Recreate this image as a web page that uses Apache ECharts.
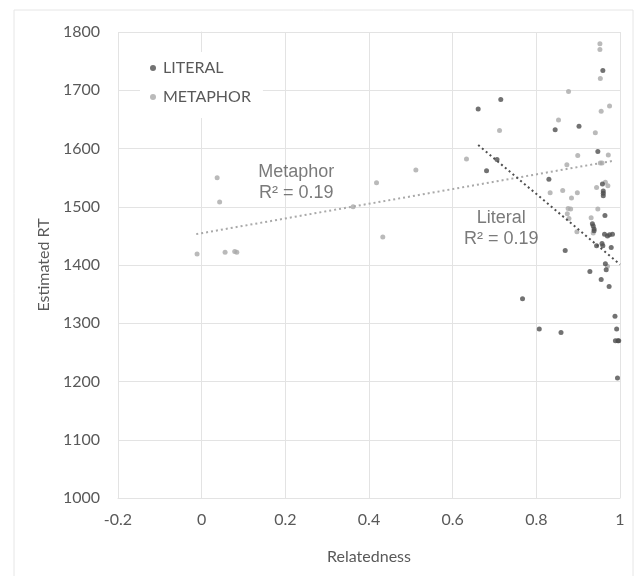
<!DOCTYPE html>
<html>
<head>
<meta charset="utf-8">
<script src="https://cdn.jsdelivr.net/npm/echarts@6/dist/echarts.min.js"></script>
<style>
  html, body { margin: 0; padding: 0; background: #ffffff; }
  #chart { width: 635px; height: 576px; }
</style>
</head>
<body>
<div id="chart"></div>
<script>
// Relatedness (x) vs estimated reaction time (y)
const literalX = [0.959, 0.715, 0.661, 0.845, 0.902, 0.947, 0.706, 0.681, 0.830, 0.958,
  0.960, 0.960, 0.960, 0.964, 0.934, 0.936, 0.938, 0.938, 0.963, 0.970,
  0.975, 0.982, 0.944, 0.957, 0.959, 0.979, 0.869, 0.928, 0.965, 0.967,
  0.955, 0.974, 0.767, 0.988, 0.807, 0.992, 0.859, 0.989, 0.995, 0.997, 0.994];
const literalRT = [1734, 1684, 1668, 1632, 1638, 1595, 1581, 1562, 1547, 1539,
  1527, 1523, 1519, 1485, 1471, 1467, 1462, 1459, 1453, 1450,
  1452, 1453, 1433, 1437, 1433, 1430, 1425, 1389, 1402, 1392,
  1375, 1363, 1342, 1312, 1290, 1290, 1284, 1270, 1270, 1270, 1206];

const metaphorX = [-0.011, 0.037, 0.043, 0.056, 0.079, 0.084, 0.362, 0.418, 0.433, 0.512,
  0.633, 0.712, 0.952, 0.952, 0.953, 0.877, 0.975, 0.955, 0.853, 0.941,
  0.972, 0.899, 0.873, 0.953, 0.957, 0.965, 0.944, 0.971, 0.833, 0.863,
  0.898, 0.884, 0.876, 0.882, 0.874, 0.878, 0.897, 0.947, 0.931, 0.936, 0.970];
const metaphorRT = [1419, 1550, 1508, 1422, 1423, 1422, 1500, 1541, 1448, 1563,
  1582, 1631, 1780, 1770, 1720, 1698, 1673, 1664, 1649, 1627,
  1589, 1588, 1572, 1575, 1575, 1542, 1533, 1536, 1524, 1528,
  1524, 1515, 1497, 1496, 1488, 1480, 1457, 1496, 1481, 1455, 1398];

// Linear trend line end points
const literalTrendX = [0.661, 1.0];
const literalTrendY = [1606, 1401];
const metaphorTrendX = [-0.013, 0.985];
const metaphorTrendY = [1453, 1579];

// Trend annotations (anchored in data space)
const literalNote = { x: 0.716, y: 1463, text: 'Literal\nR² = 0.19' };
const metaphorNote = { x: 0.226, y: 1541, text: 'Metaphor\nR² = 0.19' };

const xTicks = { min: -0.2, max: 1, interval: 0.2 };
const yTicks = { min: 1000, max: 1800, interval: 100 };

const darkColor = '#4f4f4f';
const lightColor = '#a9a9a9';
const gridColor = '#e3e3e3';
const textColor = '#595959';

const zip = (xs, ys) => xs.map((x, i) => [x, ys[i]]);

const chart = echarts.init(document.getElementById('chart'), null, { renderer: 'canvas' });

chart.setOption({
  animation: false,
  backgroundColor: '#ffffff',
  textStyle: { fontFamily: 'Lato, "Liberation Sans", sans-serif' },
  graphic: [{
    type: 'rect',
    shape: { x: 14, y: 10, width: 619, height: 580 },
    style: { fill: 'none', stroke: '#e6e6e6', lineWidth: 1 },
    silent: true,
    z: -1
  }],
  grid: { left: 118, right: 15, top: 32, bottom: 78 },
  legend: {
    orient: 'vertical',
    left: 140,
    top: 52,
    padding: [7, 12, 12, 10],
    backgroundColor: '#ffffff',
    itemWidth: 6,
    itemHeight: 6,
    itemGap: 11,
    data: [
      { name: 'LITERAL', icon: 'circle' },
      { name: 'METAPHOR', icon: 'circle' }
    ],
    textStyle: {
      color: textColor, fontSize: 16, fontFamily: 'Lato, sans-serif',
      lineHeight: 18, padding: [0, 0, 0, 2]
    },
    z: 10
  },
  xAxis: {
    type: 'value',
    min: xTicks.min,
    max: xTicks.max,
    interval: xTicks.interval,
    name: 'Relatedness',
    nameLocation: 'middle',
    nameGap: 51,
    nameTextStyle: { color: textColor, fontSize: 16, fontFamily: 'Lato, sans-serif' },
    axisLine: { show: true, lineStyle: { color: gridColor } },
    axisTick: { show: false },
    axisLabel: {
      color: textColor, fontSize: 16, margin: 14,
      formatter: v => String(Math.round(v * 10) / 10)
    },
    splitLine: { show: true, lineStyle: { color: gridColor } }
  },
  yAxis: {
    type: 'value',
    min: yTicks.min,
    max: yTicks.max,
    interval: yTicks.interval,
    name: 'Estimated RT',
    nameLocation: 'middle',
    nameRotate: 90,
    nameGap: 63,
    nameTextStyle: { color: textColor, fontSize: 16, fontFamily: 'Lato, sans-serif' },
    axisLine: { show: true, lineStyle: { color: gridColor } },
    axisTick: { show: false },
    axisLabel: { color: textColor, fontSize: 16, margin: 18, formatter: v => String(v) },
    splitLine: { show: true, lineStyle: { color: gridColor } }
  },
  series: [
    {
      name: 'METAPHOR',
      type: 'scatter',
      symbol: 'circle',
      symbolSize: 5,
      itemStyle: { color: lightColor },
      data: zip(metaphorX, metaphorRT),
      z: 2
    },
    {
      name: 'LITERAL',
      type: 'scatter',
      symbol: 'circle',
      symbolSize: 5,
      itemStyle: { color: darkColor },
      data: zip(literalX, literalRT),
      z: 3
    },
    {
      name: 'Metaphor trend',
      type: 'line',
      data: zip(metaphorTrendX, metaphorTrendY),
      showSymbol: false,
      symbol: 'none',
      lineStyle: { color: lightColor, width: 2, type: [2, 3] },
      silent: true,
      z: 4
    },
    {
      name: 'Literal trend',
      type: 'line',
      data: zip(literalTrendX, literalTrendY),
      showSymbol: false,
      symbol: 'none',
      lineStyle: { color: darkColor, width: 2, type: [2, 3] },
      silent: true,
      z: 5
    },
    {
      name: 'Trend notes',
      type: 'scatter',
      symbolSize: 0,
      silent: true,
      data: [metaphorNote, literalNote].map(n => ({ value: [n.x, n.y], note: n.text })),
      label: {
        show: true,
        position: 'inside',
        formatter: p => p.data.note,
        color: textColor,
        fontSize: 18,
        lineHeight: 21,
        fontFamily: '"Liberation Sans", Arial, sans-serif',
        align: 'center'
      },
      z: 6
    }
  ]
});
</script>
</body>
</html>
